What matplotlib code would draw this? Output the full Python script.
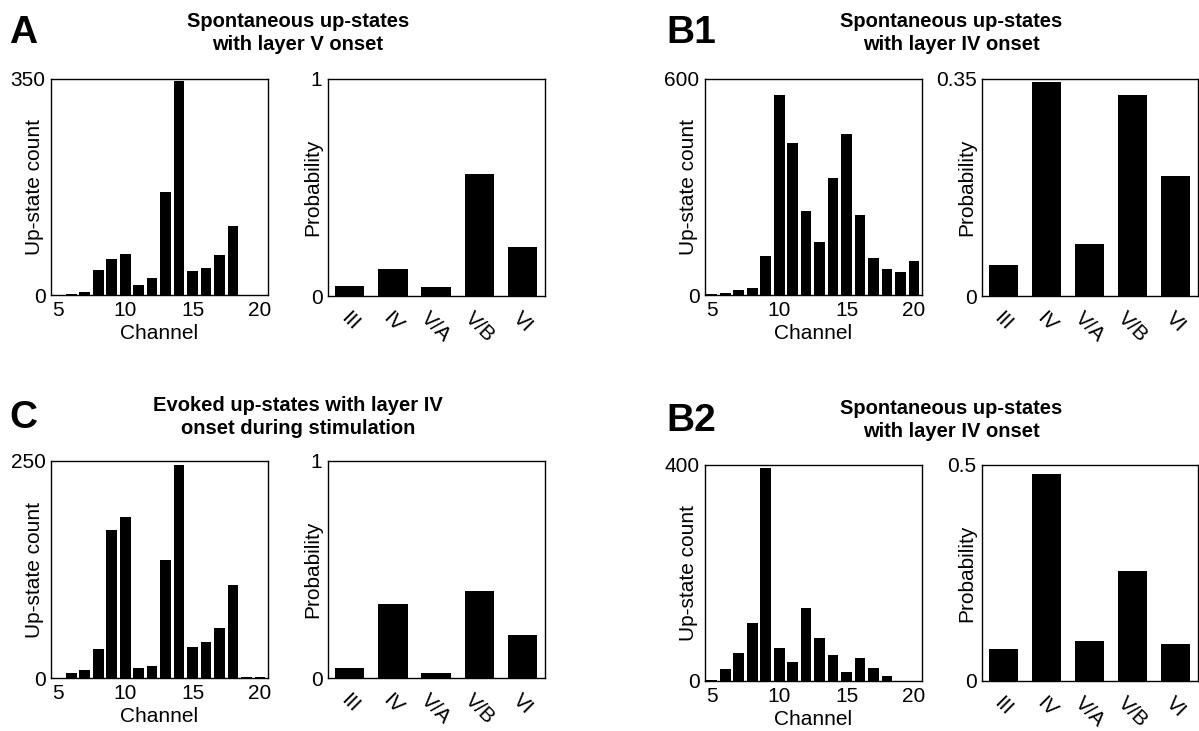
import matplotlib
matplotlib.use("Agg")
import matplotlib.pyplot as plt

plt.rcParams['font.family'] = ['Liberation Sans', 'DejaVu Sans']

channels = list(range(5, 21))
layers = ["III", "IV", "V/A", "V/B", "VI"]

# up-state counts per channel (5..20)
a_counts = [0, 2, 5, 41, 58, 66, 17, 27, 167, 346, 39, 43, 65, 112, 0, 0]
b1_counts = [2, 5, 13, 20, 108, 556, 423, 234, 146, 325, 448, 221, 104, 73, 65, 94]
c_counts = [0, 6, 9, 33, 171, 185, 11, 14, 136, 245, 36, 41, 58, 107, 1, 1]
b2_counts = [2, 23, 51, 107, 395, 62, 35, 136, 80, 49, 16, 42, 24, 9, 0, 0]

# onset probability per layer
a_prob = [0.048, 0.126, 0.043, 0.564, 0.225]
b1_prob = [0.050, 0.345, 0.084, 0.325, 0.194]
c_prob = [0.045, 0.341, 0.025, 0.400, 0.197]
b2_prob = [0.073, 0.480, 0.092, 0.254, 0.086]

fig = plt.figure(figsize=(11.99, 7.31), dpi=100)
W = 1199.0
H = 731.0
FS = 15


def box(x0, x1, ytop, ybot):
    return [x0 / W, 1 - ybot / H, (x1 - x0) / W, (ybot - ytop) / H]


def style(ax):
    for s in ax.spines.values():
        s.set_linewidth(1.0)
        s.set_color("black")
    ax.tick_params(length=0, labelsize=FS, pad=4)


def hist_panel(pos, counts, ymax):
    ax = fig.add_axes(pos)
    ax.bar(channels, counts, width=0.8, color="black", edgecolor="none")
    ax.set_xlim(4.5, 20.6)
    ax.set_ylim(0, ymax)
    ax.set_xticks([5, 10, 15, 20])
    ax.set_yticks([0, ymax])
    ax.set_yticklabels(["0", str(ymax)])
    style(ax)
    ax.set_xlabel("Channel", fontsize=FS, labelpad=3)
    ax.set_ylabel("Up-state count", fontsize=FS)
    ax.yaxis.set_label_coords(-0.03, 0.5)
    return ax


def prob_panel(pos, probs, ymax, ylab):
    ax = fig.add_axes(pos)
    ax.bar(range(len(layers)), probs, width=0.68, color="black", edgecolor="none")
    ax.set_xlim(-0.5, 4.52)
    ax.set_ylim(0, ymax)
    ax.set_xticks(range(len(layers)))
    ax.set_xticklabels(layers, rotation=-45, ha="center")
    ax.set_yticks([0, ymax])
    ax.set_yticklabels(["0", ylab])
    style(ax)
    ax.tick_params(axis="x", pad=9)
    ax.set_ylabel("Probability", fontsize=FS)
    ax.yaxis.set_label_coords(-0.025, 0.5)
    return ax


hist_panel(box(51, 268, 79, 295), a_counts, 350)
prob_panel(box(328, 545, 79, 296), a_prob, 1, "1")
hist_panel(box(705, 922, 79, 295), b1_counts, 600)
prob_panel(box(982, 1198, 79, 296), b1_prob, 0.35, "0.35")
hist_panel(box(51, 268, 461, 678), c_counts, 250)
prob_panel(box(328, 545, 461, 678), c_prob, 1, "1")
hist_panel(box(705, 922, 465, 681), b2_counts, 400)
prob_panel(box(982, 1198, 465, 681), b2_prob, 0.5, "0.5")

titles = [
    (298, 33, "Spontaneous up-states\nwith layer V onset"),
    (951, 33, "Spontaneous up-states\nwith layer IV onset"),
    (298, 417, "Evoked up-states with layer IV\nonset during stimulation"),
    (951, 420, "Spontaneous up-states\nwith layer IV onset"),
]
for x, y, t in titles:
    fig.text(x / W, 1 - y / H, t, ha="center", va="center", fontsize=14.5,
             fontweight="bold", linespacing=1.3)

letters = [(9, 33, "A"), (666, 33, "B1"), (9, 418, "C"), (666, 421, "B2")]
for x, y, t in letters:
    fig.text(x / W, 1 - y / H, t, ha="left", va="center", fontsize=28,
             fontweight="bold")

fig.savefig("out.png", dpi=100)
